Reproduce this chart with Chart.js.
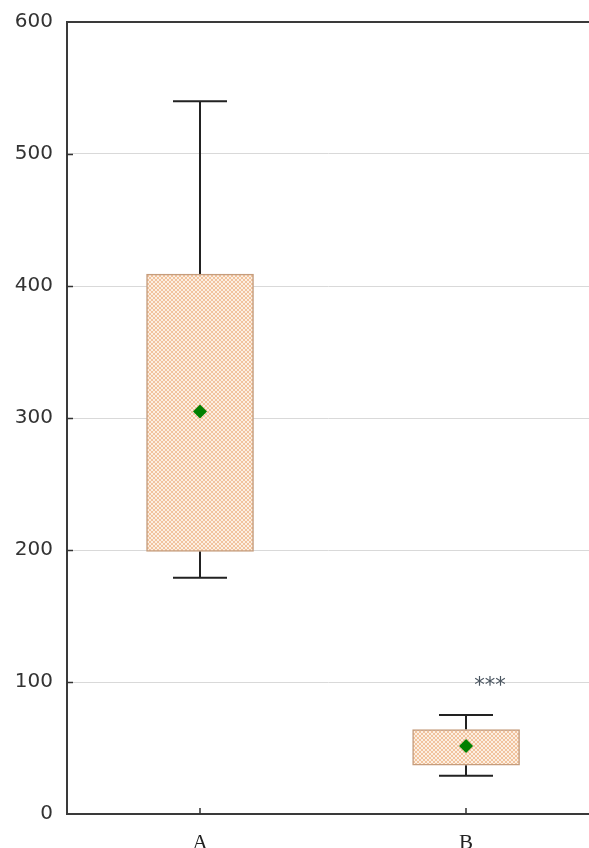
<!DOCTYPE html>
<html>
<head>
<meta charset="utf-8">
<script src="https://cdn.jsdelivr.net/npm/chart.js@4"></script>
<style>
  html, body { margin: 0; padding: 0; background: #fff; overflow: hidden; }
  #wrap { width: 589px; height: 848px; }
</style>
</head>
<body>
<div id="wrap"><canvas id="chart" width="589" height="848"></canvas></div>
<script>
// Box plot data
const categories = ['A', 'B'];
const catPos = [0.5, 1.5];
const whiskerLow = [179, 29];
const boxLow = [199, 37];
const boxHigh = [409, 64];
const whiskerHigh = [540, 75];
const means = [305, 51.5];
const yTicks = [0, 100, 200, 300, 400, 500, 600];
const sigMarks = ['', '***'];
const sigLevel = [null, 100];

// cross-hatch fill for the boxes
function hatchPattern() {
  const c = document.createElement('canvas');
  c.width = 4; c.height = 4;
  const g = c.getContext('2d');
  g.fillStyle = '#fcefe2';
  g.fillRect(0, 0, 4, 4);
  g.strokeStyle = '#efbd95';
  g.lineWidth = 0.9;
  g.beginPath();
  g.moveTo(0, 0); g.lineTo(4, 4);
  g.moveTo(4, 0); g.lineTo(0, 4);
  g.stroke();
  return g.createPattern(c, 'repeat');
}

// whiskers + caps, drawn from the data through the scales
const whiskerPlugin = {
  id: 'whiskers',
  beforeDatasetsDraw(chart) {
    const { ctx, scales: { x, y } } = chart;
    ctx.save();
    ctx.strokeStyle = '#222';
    ctx.lineWidth = 2;
    categories.forEach((c, i) => {
      const px = Math.round(x.getPixelForValue(catPos[i]));
      const capHalf = 27;
      const hi = y.getPixelForValue(whiskerHigh[i]);
      const lo = y.getPixelForValue(whiskerLow[i]);
      ctx.beginPath();
      ctx.moveTo(px, hi); ctx.lineTo(px, y.getPixelForValue(boxHigh[i]));
      ctx.moveTo(px, lo); ctx.lineTo(px, y.getPixelForValue(boxLow[i]));
      ctx.moveTo(px - capHalf, hi); ctx.lineTo(px + capHalf, hi);
      ctx.moveTo(px - capHalf, lo); ctx.lineTo(px + capHalf, lo);
      ctx.stroke();
    });
    ctx.restore();
  },
  afterDraw(chart) {
    const { ctx, chartArea, scales: { x, y } } = chart;
    ctx.save();
    // inward tick marks
    ctx.strokeStyle = '#333';
    ctx.lineWidth = 1.5;
    ctx.beginPath();
    yTicks.slice(1, -1).forEach(v => {
      const py = Math.round(y.getPixelForValue(v)) + 0.5;
      ctx.moveTo(chartArea.left, py); ctx.lineTo(chartArea.left + 6, py);
    });
    catPos.forEach(v => {
      const px = Math.round(x.getPixelForValue(v));
      ctx.moveTo(px, chartArea.bottom); ctx.lineTo(px, chartArea.bottom - 6);
    });
    ctx.stroke();
    // significance stars
    ctx.fillStyle = '#4a5560';
    ctx.font = '21px "DejaVu Sans"';
    ctx.textAlign = 'center';
    ctx.textBaseline = 'alphabetic';
    sigMarks.forEach((s, i) => {
      if (!s) return;
      ctx.fillText(s, x.getPixelForValue(catPos[i]) + 24, y.getPixelForValue(sigLevel[i]) + 10);
    });
    ctx.restore();
  }
};

const ctx = document.getElementById('chart').getContext('2d');
const chart = new Chart(ctx, {
  type: 'bar',
  data: {
    datasets: [{
      type: 'line',
      label: 'Mean',
      data: categories.map((c, i) => ({ x: catPos[i], y: means[i] })),
      showLine: false,
      pointStyle: 'rectRot',
      pointRadius: 7,
      backgroundColor: '#008000',
      borderColor: '#008000',
      borderWidth: 0,
      order: 0
    }, {
      label: 'Box',
      data: categories.map((c, i) => ({ x: catPos[i], y: [boxLow[i], boxHigh[i]] })),
      backgroundColor: hatchPattern(),
      borderColor: '#c59d7d',
      borderWidth: 1.5,
      borderSkipped: false,
      barThickness: 107,
      order: 1
    }]
  },
  options: {
    responsive: false,
    animation: false,
    layout: { padding: { top: 22, right: 0, left: 0, bottom: 0 }, autoPadding: false },
    plugins: {
      legend: { display: false },
      tooltip: { enabled: false }
    },
    scales: {
      x: {
        type: 'linear',
        offset: false,
        min: 0,
        max: 1.962,
        afterBuildTicks: (scale) => { scale.ticks = catPos.map(v => ({ value: v })); },
        afterFit: (scale) => { scale.height = 34; scale.paddingLeft = 0; scale.paddingRight = 0; },
        grid: { display: false, drawTicks: false, offset: false },
        border: { display: true, color: '#3a3a3a', width: 2 },
        ticks: {
          padding: 17,
          maxRotation: 0,
          autoSkip: false,
          color: '#222',
          font: { family: 'Liberation Serif', size: 21 },
          callback: (v, i) => categories[i]
        }
      },
      y: {
        min: 0,
        max: 600,
        afterBuildTicks: (scale) => { scale.ticks = yTicks.map(v => ({ value: v })); },
        afterFit: (scale) => { scale.width = 67; scale.paddingTop = 0; scale.paddingBottom = 0; },
        grid: {
          drawTicks: false,
          color: (c) => c.tick.value === 600 ? '#3a3a3a' : (c.tick.value === 0 ? 'rgba(0,0,0,0)' : '#d9d9d9'),
          lineWidth: (c) => c.tick.value === 600 ? 2 : 1
        },
        border: { display: true, color: '#3a3a3a', width: 2 },
        ticks: {
          padding: 14,
          color: '#333',
          font: { family: 'DejaVu Sans', size: 20 }
        }
      }
    }
  },
  plugins: [whiskerPlugin]
});
</script>
</body>
</html>
